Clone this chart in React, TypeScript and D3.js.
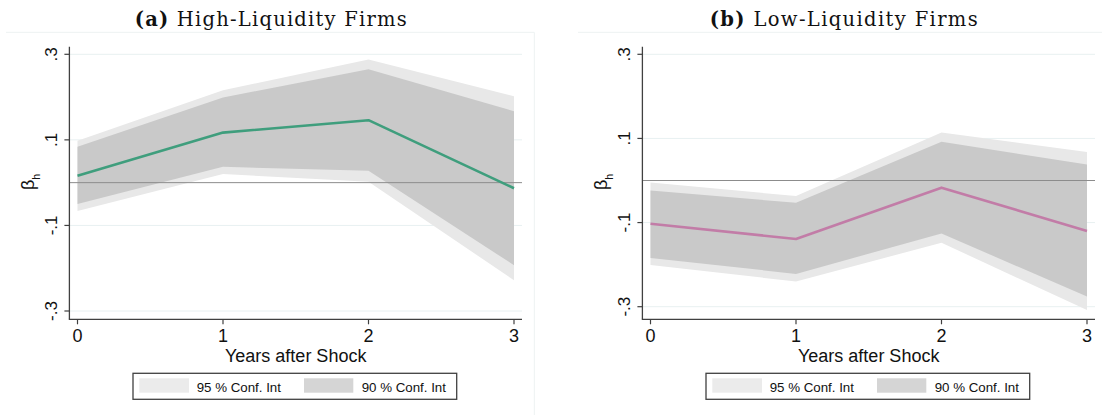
import React from "react";
import * as d3 from "d3";

// Horizon (years after the liquidity shock)
const years = [0, 1, 2, 3];
const yTicks = [-0.3, -0.1, 0.1, 0.3];
const yTickLabels = ["-.3", "-.1", ".1", ".3"];

// High-liquidity firms: point estimates and confidence bands
const highBeta = [0.016, 0.117, 0.146, -0.013];
const highLo95 = [-0.066, 0.02, 0.002, -0.228];
const highHi95 = [0.098, 0.216, 0.288, 0.202];
const highLo90 = [-0.05, 0.037, 0.028, -0.193];
const highHi90 = [0.084, 0.199, 0.265, 0.167];

// Low-liquidity firms: point estimates and confidence bands
const lowBeta = [-0.103, -0.139, -0.017, -0.12];
const lowLo95 = [-0.201, -0.24, -0.148, -0.308];
const lowHi95 = [-0.005, -0.037, 0.114, 0.068];
const lowLo90 = [-0.184, -0.222, -0.126, -0.276];
const lowHi90 = [-0.024, -0.053, 0.092, 0.038];

const legendLabels = ["95 % Conf. Int", "90 % Conf. Int"];

const SANS = "'Liberation Sans', Arial, sans-serif";
const SERIF = "'DejaVu Serif', serif";
const AXIS = "#404040";
const GRID = "#e8f0f1";
const FILL95 = "#e8e8e8";
const FILL90 = "#c9c9c9";
const SW95 = "#ebebeb";
const SW90 = "#d5d5d5";

type PanelProps = {
  dx: number;
  letter: string;
  title: string;
  titleWidth: number;
  yTop: number; // pixel of +.3
  yBot: number; // pixel of -.3
  beta: number[];
  lo95: number[];
  hi95: number[];
  lo90: number[];
  hi90: number[];
  color: string;
};

function Panel(p: PanelProps) {
  const axisX = 69.4;
  const plotRight = 522;
  const plotTop = 46.7;
  const plotBottom = 319.3;

  const x = d3.scaleLinear().domain([0, 3]).range([77.5, 514]);
  const y = d3.scaleLinear().domain([-0.3, 0.3]).range([p.yBot, p.yTop]);

  const band = (lo: number[], hi: number[]) =>
    d3
      .area<number>()
      .x((d) => x(d))
      .y0((_, i) => y(lo[i]))
      .y1((_, i) => y(hi[i]))(years) || "";

  const line =
    d3
      .line<number>()
      .x((d) => x(d))
      .y((_, i) => y(p.beta[i]))(years) || "";

  const titleCenter = (axisX + plotRight) / 2 - 25;

  return (
    <g transform={`translate(${p.dx},0)`}>
      {/* chart title */}
      <text
        x={titleCenter}
        y={25.5}
        textAnchor="middle"
        fontFamily={SERIF}
        fontSize={19.5}
        fill="#111"
        textLength={p.titleWidth}
        lengthAdjust="spacing"
      >
        <tspan fontWeight="bold">({p.letter})</tspan>
        <tspan> {p.title}</tspan>
      </text>

      {/* gridlines */}
      {yTicks.map((t) => (
        <line
          key={`g${t}`}
          x1={axisX}
          x2={plotRight}
          y1={y(t)}
          y2={y(t)}
          stroke={GRID}
          strokeWidth={1}
        />
      ))}

      {/* confidence bands */}
      <path d={band(p.lo95, p.hi95)} fill={FILL95} />
      <path d={band(p.lo90, p.hi90)} fill={FILL90} />

      {/* zero reference */}
      <line x1={axisX} x2={plotRight} y1={y(0)} y2={y(0)} stroke="#8c8c8c" strokeWidth={1} />

      {/* point estimates */}
      <path d={line} fill="none" stroke={p.color} strokeWidth={2.6} strokeLinejoin="round" />

      {/* axes */}
      <line x1={axisX} x2={axisX} y1={plotTop} y2={plotBottom} stroke={AXIS} strokeWidth={1.3} />
      <line x1={axisX - 0.6} x2={plotRight} y1={plotBottom} y2={plotBottom} stroke={AXIS} strokeWidth={1.3} />

      {yTicks.map((t, i) => (
        <g key={`yt${t}`}>
          <line x1={axisX - 5} x2={axisX} y1={y(t)} y2={y(t)} stroke={AXIS} strokeWidth={1.2} />
          <text
            transform={`translate(57,${y(t)}) rotate(-90)`}
            textAnchor="middle"
            fontFamily={SANS}
            fontSize={17}
            fill="#111"
          >
            {yTickLabels[i]}
          </text>
        </g>
      ))}

      {years.map((t) => (
        <g key={`xt${t}`}>
          <line x1={x(t)} x2={x(t)} y1={plotBottom} y2={plotBottom + 5} stroke={AXIS} strokeWidth={1.2} />
          <text x={x(t)} y={342.3} textAnchor="middle" fontFamily={SANS} fontSize={18} fill="#111">
            {t}
          </text>
        </g>
      ))}

      {/* axis titles */}
      <text x={(axisX + plotRight) / 2} y={361.5} textAnchor="middle" fontFamily={SANS} fontSize={18} fill="#111">
        Years after Shock
      </text>
      <text
        transform={`translate(34,${182}) rotate(-90)`}
        textAnchor="middle"
        fontFamily={SANS}
        fontSize={18}
        fill="#111"
      >
        <tspan>β</tspan>
        <tspan fontSize={10.5} dy={6}>h</tspan>
      </text>

      {/* legend */}
      <rect x={133} y={373.3} width={323.7} height={26} fill="#fff" stroke={AXIS} strokeWidth={1.3} />
      <rect x={139.3} y={378.3} width={49.7} height={14.4} fill={SW95} />
      <text x={196.7} y={391.5} fontFamily={SANS} fontSize={13.3} fill="#111">
        {legendLabels[0]}
      </text>
      <rect x={304} y={378.3} width={49.3} height={14.4} fill={SW90} />
      <text x={361.7} y={391.5} fontFamily={SANS} fontSize={13.3} fill="#111">
        {legendLabels[1]}
      </text>
    </g>
  );
}

export default function App() {
  return (
    <svg
      width={1102}
      height={415}
      viewBox="0 0 1102 415"
      style={{ position: "absolute", left: 0, top: 0, background: "#fff" }}
    >
      <rect width={1102} height={415} fill="#fff" />
      {/* faint outer graph-region frames */}
      <line x1={6} x2={534.3} y1={32.3} y2={32.3} stroke="#edf2f2" strokeWidth={1} />
      <line x1={534.3} x2={534.3} y1={32.3} y2={415} stroke="#edf2f2" strokeWidth={1} />
      <line x1={578} x2={1102} y1={32.3} y2={32.3} stroke="#edf2f2" strokeWidth={1} />

      <Panel
        dx={0}
        letter="a"
        title="High-Liquidity Firms"
        titleWidth={272}
        yTop={54.3}
        yBot={311}
        beta={highBeta}
        lo95={highLo95}
        hi95={highHi95}
        lo90={highLo90}
        hi90={highHi90}
        color="#3f9e7d"
      />
      <Panel
        dx={573}
        letter="b"
        title="Low-Liquidity Firms"
        titleWidth={268}
        yTop={54.3}
        yBot={306.7}
        beta={lowBeta}
        lo95={lowLo95}
        hi95={lowHi95}
        lo90={lowLo90}
        hi90={lowHi90}
        color="#c27ca7"
      />
    </svg>
  );
}
